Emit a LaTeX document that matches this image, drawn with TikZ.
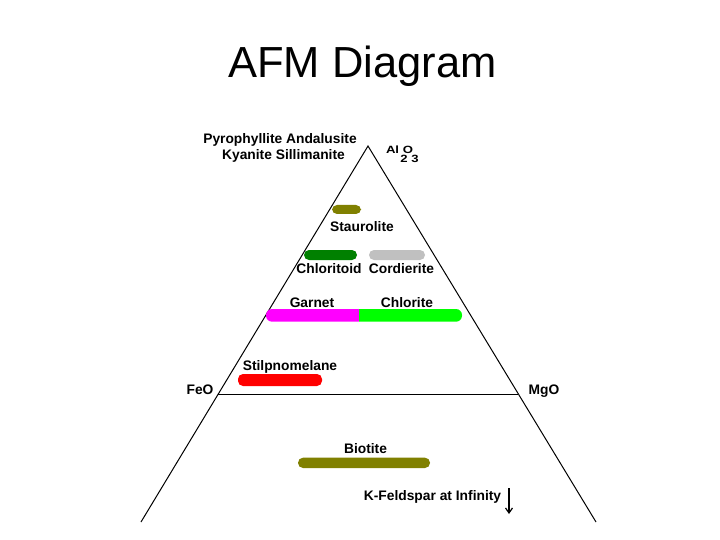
\documentclass[tikz,border=0pt]{standalone}
\usepackage{fontspec}
\setmainfont{Liberation Sans}
\newfontfamily\subfont[FakeStretch=1.25]{Liberation Sans}
\usetikzlibrary{arrows.meta}
\definecolor{olivebar}{HTML}{808000}
\definecolor{darkgreenbar}{HTML}{008000}
\definecolor{silverbar}{HTML}{C0C0C0}
\definecolor{magentabar}{HTML}{FF00FF}
\definecolor{limebar}{HTML}{00FF00}
\definecolor{redbar}{HTML}{FF0000}
\tikzset{
  lbl/.style={anchor=base, inner sep=0pt, font=\fontsize{13.8}{14}\selectfont\bfseries},
  sublbl/.style={anchor=base, inner sep=0pt, font=\subfont\fontsize{10.5}{11}\selectfont\bfseries},
  edge/.style={draw=black, line width=1pt},
  bar/.style={rounded corners=5pt, inner sep=0pt},
}
\begin{document}
\begin{tikzpicture}[x=1pt,y=-1pt]
\useasboundingbox (0,0) rectangle (720,540);
% title
\node[anchor=base, inner sep=0pt, font=\fontsize{43.5}{46}\selectfont] (title) at (362.5,77.7) {AFM Diagram};
% triangle
\coordinate (apex) at (368,146);
\coordinate (bl) at (141,522);
\coordinate (br) at (596,522);
\coordinate (feoend) at (218.3,394);
\coordinate (mgoend) at (517.7,394);
\draw[edge] (bl) -- (apex) -- (br);
\draw[edge] (feoend) -- (mgoend);
% labels
\node[lbl] (pyro) at (280,144) {Pyrophyllite Andalusite};
\node[lbl] (kya) at (283.5,160) {Kyanite Sillimanite};
\node[sublbl] (alo) at (399.5,153.3) {Al O};
\node[sublbl] (two3) at (409.5,162.8) {2 3};
\node[lbl] (stau) at (362,231) {Staurolite};
\node[lbl] (chtd) at (329,273) {Chloritoid};
\node[lbl] (cord) at (401.5,273) {Cordierite};
\node[lbl] (garn) at (312,307) {Garnet};
\node[lbl] (chlo) at (407,307) {Chlorite};
\node[lbl] (stil) at (290,370) {Stilpnomelane};
\node[lbl] (feo) at (200,394) {FeO};
\node[lbl] (mgo) at (544,394) {MgO};
\node[lbl] (biot) at (365.5,453) {Biotite};
\node[lbl] (kfel) at (432.5,500) {K-Feldspar at Infinity};
% bars
\fill[olivebar, bar] (332,205) rectangle (361,214);
\fill[darkgreenbar, bar] (304,250) rectangle (357,260);
\fill[silverbar, bar] (369,250) rectangle (425,260);
\fill[magentabar] (359,309) [rounded corners=6pt] -- (266,309) -- (266,321.7) [sharp corners] -- (359,321.7) -- cycle;
\fill[limebar] (359,309) [rounded corners=6pt] -- (462,309) -- (462,321.7) [sharp corners] -- (359,321.7) -- cycle;
\fill[redbar, bar] (238,374) rectangle (322,386);
\fill[olivebar, bar] (298,457.7) rectangle (430,468);
% arrow
\coordinate (arrtop) at (509,488);
\coordinate (arrbot) at (509,514);
\draw[line width=1.2pt, -{Straight Barb[length=5pt,width=7pt]}] (arrtop) -- (arrbot);
\end{tikzpicture}
\end{document}
